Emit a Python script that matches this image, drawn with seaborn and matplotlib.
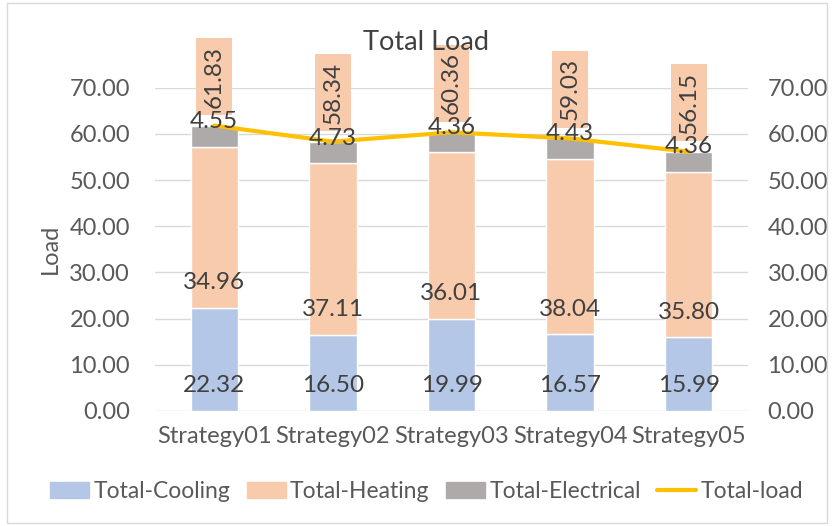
import numpy as np
import seaborn as sns
import matplotlib.pyplot as plt
from matplotlib.patches import Patch, Rectangle
from matplotlib.lines import Line2D

# data
strategies = ['Strategy01', 'Strategy02', 'Strategy03', 'Strategy04', 'Strategy05']
cooling = [22.32, 16.50, 19.99, 16.57, 15.99]
heating = [34.96, 37.11, 36.01, 38.04, 35.80]
electrical = [4.55, 4.73, 4.36, 4.43, 4.36]
total_load = [61.83, 58.34, 60.36, 59.03, 56.15]
y_ticks = [0, 10, 20, 30, 40, 50, 60, 70]

c_cool = '#B4C7E7'
c_heat = '#F8CBAD'
c_elec = '#AEAAAA'
c_line = '#FFC000'
c_text = '#404040'
c_tick = '#595959'

sns.set_theme(style='white')
plt.rcParams['font.family'] = ['Lato', 'DejaVu Sans']

fig = plt.figure(figsize=(8.33, 5.26), dpi=100)
ax = fig.add_axes([0.186, 0.219, 0.712, 0.614])

bottom2 = np.array(cooling) + np.array(heating)
sns.barplot(x=strategies, y=cooling, color=c_cool, width=0.4, saturation=1, ax=ax, zorder=2)
sns.barplot(x=strategies, y=heating, bottom=cooling, color=c_heat, width=0.4, saturation=1, ax=ax, zorder=2)
sns.barplot(x=strategies, y=electrical, bottom=bottom2, color=c_elec, width=0.4, saturation=1, ax=ax, zorder=2)
sns.lineplot(x=np.arange(len(strategies)), y=total_load, color=c_line, linewidth=3, ax=ax, zorder=4)

# data labels (inside base)
off = 5.4
fs_lab = 17.5
for i in range(len(strategies)):
    ax.text(i, 0 + off, f'{cooling[i]:.2f}', ha='center', va='center', fontsize=fs_lab, color=c_text, zorder=5)
    ax.text(i, cooling[i] + off, f'{heating[i]:.2f}', ha='center', va='center', fontsize=fs_lab, color=c_text, zorder=5)
    ax.text(i, bottom2[i] + off, f'{electrical[i]:.2f}', ha='center', va='center', fontsize=fs_lab, color=c_text, zorder=7)
    ax.text(i, total_load[i] + 3.9, f'{total_load[i]:.2f}', ha='center', va='bottom', rotation=90,
            fontsize=fs_lab, color=c_text, zorder=6, clip_on=False,
            bbox=dict(boxstyle='square,pad=0.3', fc=c_heat, ec='none'))

ax.set_xlim(-0.5, 4.5)
ax.set_ylim(0, 70)
ax.set_yticks(y_ticks)
ax.set_yticklabels([f'{v:.2f}' for v in y_ticks], fontsize=17, color=c_tick)
ax.tick_params(axis='y', pad=18, length=0)
ax.tick_params(axis='x', pad=11, length=0, labelsize=17, labelcolor=c_tick)
ax.set_xlabel('')
ax.set_ylabel('Load', fontsize=17, color=c_tick, labelpad=6)
ax.grid(axis='y', color='#D9D9D9', linewidth=1, zorder=0)
ax.set_axisbelow(True)
for s in ax.spines.values():
    s.set_visible(False)

ax2 = ax.twinx()
ax2.set_ylim(0, 70)
ax2.set_yticks(y_ticks)
ax2.set_yticklabels([f'{v:.2f}' for v in y_ticks], fontsize=17, color=c_tick)
ax2.tick_params(axis='y', pad=14, length=0)
ax2.grid(False)
for s in ax2.spines.values():
    s.set_visible(False)

fig.text(0.512, 0.92, 'Total Load', ha='center', va='center', fontsize=19.5, color=c_text)

handles = [Patch(color=c_cool), Patch(color=c_heat), Patch(color=c_elec),
           Line2D([0], [0], color=c_line, linewidth=3)]
labels = ['Total-Cooling', 'Total-Heating', 'Total-Electrical', 'Total-load']
fig.legend(handles, labels, loc='center', bbox_to_anchor=(0.512, 0.065), ncol=4, frameon=False,
           fontsize=16.5, labelcolor=c_tick, handlelength=1.7, handleheight=0.7,
           handletextpad=0.2, columnspacing=0.7)

fig.patches.append(Rectangle((0.008, 0.005), 0.985, 0.99, transform=fig.transFigure,
                             fill=False, ec='#D9D9D9', lw=1))

fig.savefig('out.png', dpi=100)
